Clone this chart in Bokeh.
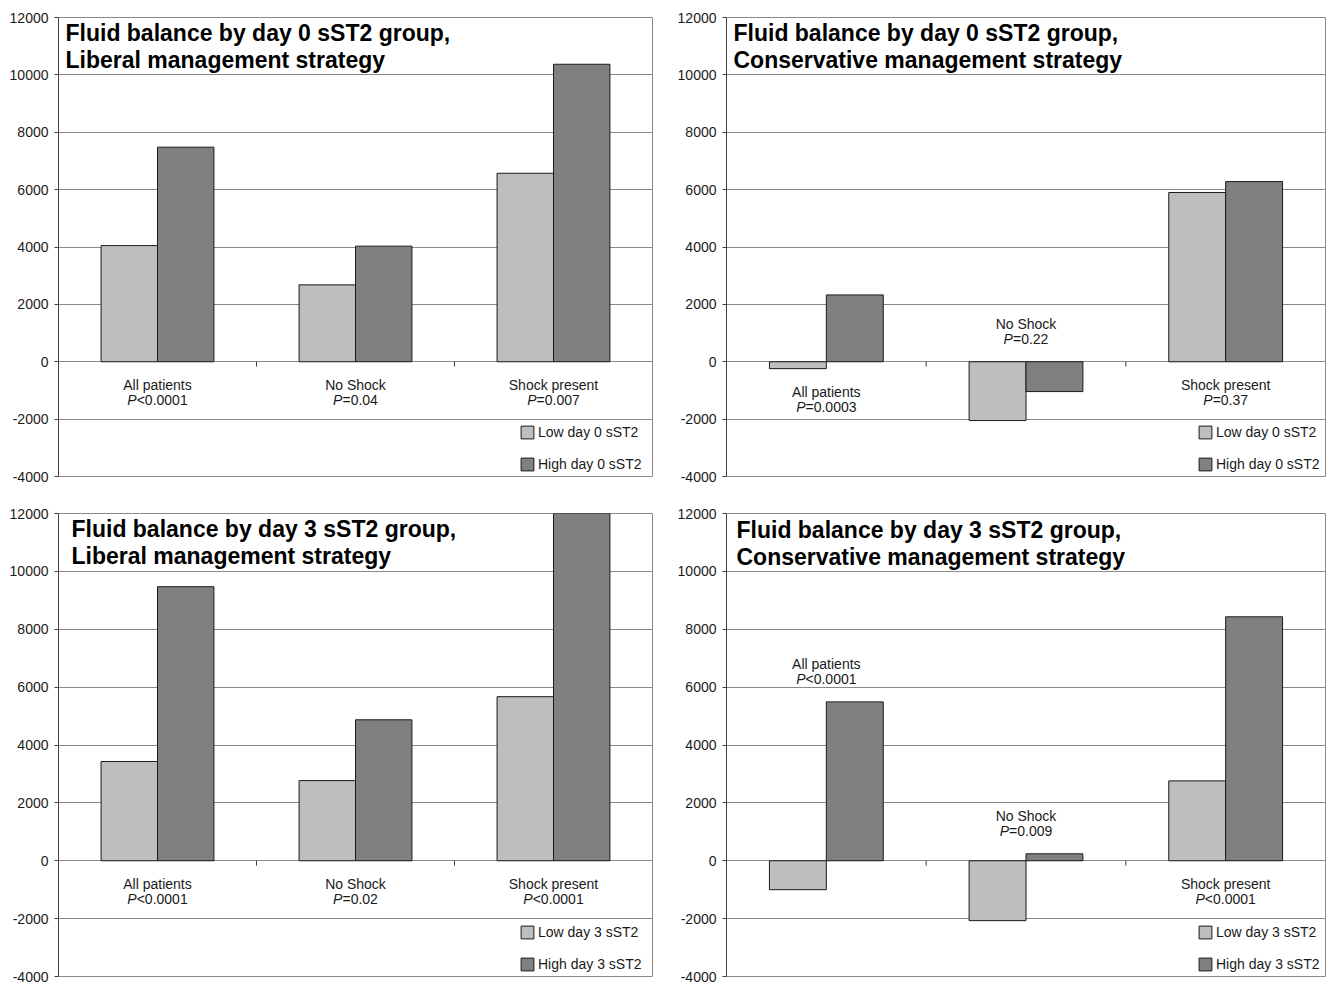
from bokeh.plotting import figure
from bokeh.layouts import column, row
from bokeh.models import Range1d, FixedTicker, Legend, LegendItem
from bokeh.core.properties import value
from bokeh.embed import file_html
from bokeh.resources import INLINE

FONT = "Liberation Sans"

categories = ["All patients", "No Shock", "Shock present"]
y_ticks = list(range(-4000, 12001, 2000))

# Day 0 sST2, liberal strategy
d0_lib_low = [4050, 2680, 6570]
d0_lib_high = [7480, 4030, 10370]
d0_lib_p = ["<0.0001", "=0.04", "=0.007"]
# Day 0 sST2, conservative strategy
d0_con_low = [-240, -2050, 5900]
d0_con_high = [2330, -1040, 6280]
d0_con_p = ["=0.0003", "=0.22", "=0.37"]
# Day 3 sST2, liberal strategy
d3_lib_low = [3430, 2770, 5670]
d3_lib_high = [9470, 4870, 12100]
d3_lib_p = ["<0.0001", "=0.02", "<0.0001"]
# Day 3 sST2, conservative strategy
d3_con_low = [-1000, -2070, 2760]
d3_con_high = [5490, 240, 8430]
d3_con_p = ["<0.0001", "=0.009", "<0.0001"]

titles = [
    "Fluid balance by day 0 sST2 group,\nLiberal management strategy",
    "Fluid balance by day 0 sST2 group,\nConservative management strategy",
    "Fluid balance by day 3 sST2 group,\nLiberal management strategy",
    "Fluid balance by day 3 sST2 group,\nConservative management strategy",
]
legend_low = ["Low day 0 sST2", "Low day 0 sST2", "Low day 3 sST2", "Low day 3 sST2"]
legend_high = ["High day 0 sST2", "High day 0 sST2", "High day 3 sST2", "High day 3 sST2"]

LOW_COLOR = "#bebebe"
HIGH_COLOR = "#808080"
EDGE = "#1a1a1a"
GRID = "#8a8a8a"
TEXT = "#1a1a1a"

# Arial / Liberation Sans advance widths (em)
CW = {"0": .556, "1": .556, "2": .556, "3": .556, "4": .556, "5": .556, "6": .556,
      "7": .556, "8": .556, "9": .556, ".": .278, "<": .584, "=": .584, "P": .667}


def tw(s, size):
    return sum(CW.get(c, .556) for c in s) * size


def panel(low, high, pvals, title, leg_lo, leg_hi, width, height,
          bl, br, bt, bb, tx, ty, lx):
    p = figure(width=width, height=height, output_backend="svg", toolbar_location=None,
               x_range=Range1d(-0.5, len(categories) - 0.5), y_range=Range1d(-4000, 12000),
               x_axis_location=None, min_border_left=bl, min_border_right=br,
               min_border_top=bt, min_border_bottom=bb)
    p.outline_line_color = GRID
    p.outline_line_width = 1
    p.xgrid.visible = False
    p.ygrid.ticker = FixedTicker(ticks=y_ticks)
    p.ygrid.grid_line_color = GRID
    p.ygrid.grid_line_width = 1
    ax = p.yaxis[0]
    ax.ticker = FixedTicker(ticks=y_ticks)
    ax.major_label_overrides = {t: str(t) for t in y_ticks}
    ax.minor_tick_line_color = None
    ax.major_tick_in = 0
    ax.major_tick_out = 4
    ax.major_tick_line_color = "#404040"
    ax.axis_line_color = "#404040"
    ax.major_label_standoff = 6
    ax.major_label_text_font = FONT
    ax.major_label_text_font_size = "14px"
    ax.major_label_text_color = TEXT

    xs = list(range(len(categories)))
    w = 0.285
    r_lo = p.vbar(x=[x - w / 2 for x in xs], top=low, bottom=0, width=w,
                  fill_color=LOW_COLOR, line_color=EDGE, line_width=1)
    r_hi = p.vbar(x=[x + w / 2 for x in xs], top=high, bottom=0, width=w,
                  fill_color=HIGH_COLOR, line_color=EDGE, line_width=1)

    # category separator ticks on zero line
    seps = [i + 0.5 for i in range(len(categories) - 1)]
    p.segment(x0=seps, x1=seps, y0=[0] * len(seps), y1=[-170] * len(seps),
              line_color="#404040", line_width=1)

    # category labels
    for i, cat in enumerate(categories):
        mn = min(low[i], high[i], 0)
        mx = max(low[i], high[i], 0)
        if mn < -500:
            y = mx
            off1, off2 = -38, -23
        else:
            y = mn
            off1, off2 = 23, 38
        p.text(x=[i], y=[y], text=[cat], y_offset=off1, text_align="center",
               text_baseline="middle", text_font=value(FONT), text_font_size="14px",
               text_color=TEXT)
        size = 14
        wp = tw("P", size)
        total = wp + tw(pvals[i], size)
        p.text(x=[i], y=[y], text=["P"], x_offset=-total / 2, y_offset=off2,
               text_align="left", text_baseline="middle", text_font=value(FONT),
               text_font_size="14px", text_font_style="italic", text_color=TEXT)
        p.text(x=[i], y=[y], text=[pvals[i]], x_offset=-total / 2 + wp, y_offset=off2,
               text_align="left", text_baseline="middle", text_font=value(FONT),
               text_font_size="14px", text_color=TEXT)

    # title
    p.text(x=[-0.5], y=[12000], text=[title], x_offset=tx, y_offset=ty,
           text_align="left", text_baseline="top", text_font=value(FONT),
           text_font_size="23px", text_font_style="bold", text_color="#000000",
           text_line_height=1.05)

    leg = Legend(items=[LegendItem(label=leg_lo, renderers=[r_lo]),
                        LegendItem(label=leg_hi, renderers=[r_hi])],
                 location=(lx, 4), orientation="vertical")
    leg.border_line_color = None
    leg.background_fill_alpha = 0
    leg.glyph_width = 16
    leg.glyph_height = 16
    leg.label_height = 16
    leg.label_standoff = 3
    leg.spacing = 16
    leg.padding = 0
    leg.margin = 0
    leg.label_text_font = FONT
    leg.label_text_font_size = "14px"
    leg.label_text_color = TEXT
    p.add_layout(leg)
    return p


p1 = panel(d0_lib_low, d0_lib_high, d0_lib_p, titles[0], legend_low[0], legend_high[0],
           670, 495, 58, 18, 17, 18, 7, 2, 461)
p2 = panel(d0_con_low, d0_con_high, d0_con_p, titles[1], legend_low[1], legend_high[1],
           659, 495, 56, 4, 16, 19, 7, 2, 471)
p3 = panel(d3_lib_low, d3_lib_high, d3_lib_p, titles[2], legend_low[2], legend_high[2],
           670, 490, 58, 18, 18, 9, 13, 2, 461)
p4 = panel(d3_con_low, d3_con_high, d3_con_p, titles[3], legend_low[3], legend_high[3],
           659, 490, 56, 4, 18, 9, 10, 3, 471)

layout = column(row(p1, p2), row(p3, p4))
open("out.html", "w").write(file_html(layout, INLINE))
